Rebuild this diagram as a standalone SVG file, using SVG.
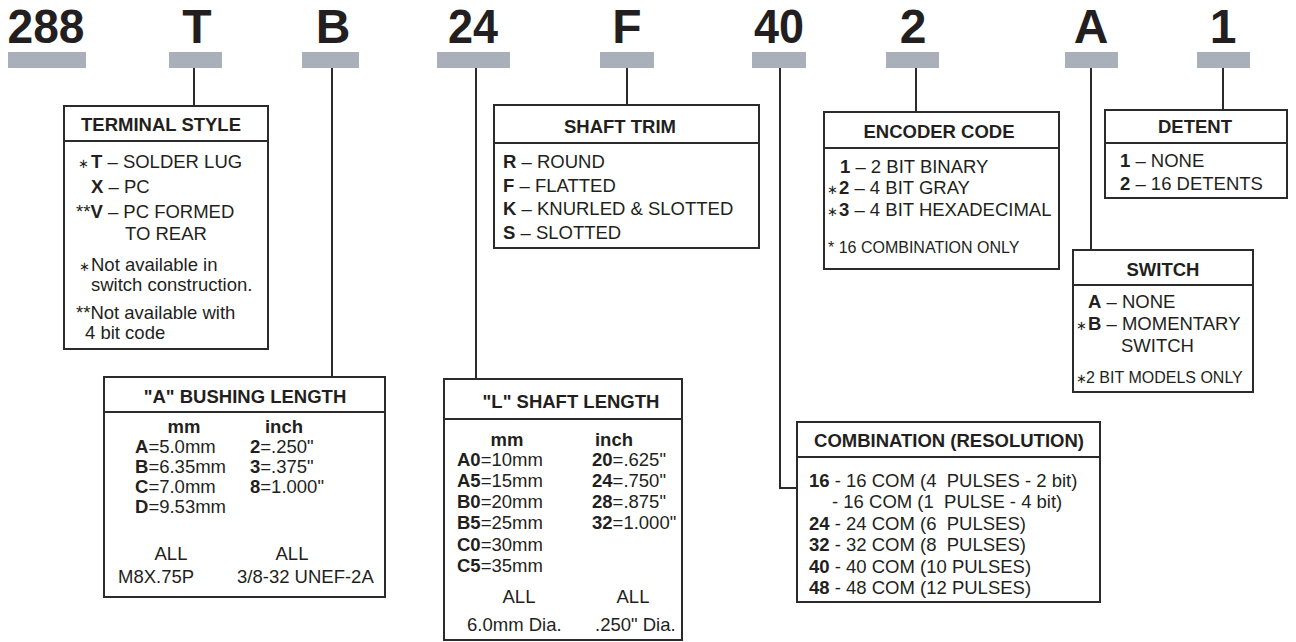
<svg xmlns="http://www.w3.org/2000/svg" width="1296" height="642" viewBox="0 0 1296 642">
<style>
text{font-family:"Liberation Sans",Arial,sans-serif;fill:#231f20}
.code{font-size:48px;font-weight:bold;text-anchor:middle}
.bar{fill:#a9b0b9}
.box{fill:#fff;stroke:#2b2b2b;stroke-width:2}
.div{stroke:#2b2b2b;stroke-width:2}
.hdr{font-size:18.5px;font-weight:bold;text-anchor:middle}
.t{font-size:18.5px}
.s{font-size:16px}
.b{font-weight:bold}
.ast{font-size:13px}
.c{text-anchor:middle}
.conn{fill:none;stroke:#2b2b2b;stroke-width:2}
</style>
<g id="codes">
<text class="code" x="46" y="43" textLength="77" lengthAdjust="spacingAndGlyphs">288</text>
<text class="code" x="197" y="43">T</text>
<text class="code" x="333" y="43">B</text>
<text class="code" x="473" y="43" textLength="50" lengthAdjust="spacingAndGlyphs">24</text>
<text class="code" x="627" y="43">F</text>
<text class="code" x="779" y="43" textLength="50" lengthAdjust="spacingAndGlyphs">40</text>
<text class="code" x="913" y="43">2</text>
<text class="code" x="1091" y="43">A</text>
<text class="code" x="1223" y="43">1</text>
<rect class="bar" x="8" y="52" width="78" height="16"/>
<rect class="bar" x="169" y="52" width="53" height="16"/>
<rect class="bar" x="302" y="52" width="57" height="16"/>
<rect class="bar" x="437" y="52" width="73" height="16"/>
<rect class="bar" x="600" y="52" width="54" height="16"/>
<rect class="bar" x="752" y="52" width="54" height="16"/>
<rect class="bar" x="886" y="52" width="53" height="16"/>
<rect class="bar" x="1065" y="52" width="53" height="16"/>
<rect class="bar" x="1197" y="52" width="53" height="16"/>
</g>
<g id="connectors">
<path class="conn" d="M194 68V106"/>
<path class="conn" d="M332 68V377"/>
<path class="conn" d="M476 68V379"/>
<path class="conn" d="M627 68V105"/>
<path class="conn" d="M780 68V488H797"/>
<path class="conn" d="M916 68V112"/>
<path class="conn" d="M1091 68V250"/>
<path class="conn" d="M1223 68V110"/>
</g>
<g id="terminal-style">
<rect class="box" x="64" y="106" width="204" height="243"/>
<line class="div" x1="64" y1="141" x2="268" y2="141"/>
<text class="hdr" x="161" y="131">TERMINAL STYLE</text>
<text class="t" y="168"><tspan class="ast" x="78">∗</tspan><tspan class="b" x="91">T</tspan> – SOLDER LUG</text>
<text class="t" y="193"><tspan class="b" x="91">X</tspan> – PC</text>
<text class="t" y="218"><tspan x="76">**</tspan><tspan class="b">V</tspan> – PC FORMED</text>
<text class="t" x="125" y="240">TO REAR</text>
<text class="t" y="271"><tspan class="ast" x="79">∗</tspan><tspan x="91">Not available in</tspan></text>
<text class="t" x="91" y="291">switch construction.</text>
<text class="t" x="76" y="319">**Not available with</text>
<text class="t" x="85" y="339">4 bit code</text>
</g>
<g id="bushing-length">
<rect class="box" x="104" y="377" width="281" height="220"/>
<line class="div" x1="104" y1="412" x2="385" y2="412"/>
<text class="hdr" x="245" y="403">"A" BUSHING LENGTH</text>
<text class="t b c" x="184" y="433">mm</text>
<text class="t b c" x="284" y="433">inch</text>
<text class="t" x="135" y="453"><tspan class="b">A</tspan>=5.0mm</text>
<text class="t" x="135" y="473"><tspan class="b">B</tspan>=6.35mm</text>
<text class="t" x="135" y="493"><tspan class="b">C</tspan>=7.0mm</text>
<text class="t" x="135" y="513"><tspan class="b">D</tspan>=9.53mm</text>
<text class="t" x="250" y="453"><tspan class="b">2</tspan>=.250"</text>
<text class="t" x="250" y="473"><tspan class="b">3</tspan>=.375"</text>
<text class="t" x="250" y="493"><tspan class="b">8</tspan>=1.000"</text>
<text class="t c" x="171" y="560">ALL</text>
<text class="t c" x="292" y="560">ALL</text>
<text class="t" x="118" y="583">M8X.75P</text>
<text class="t" x="237" y="583">3/8-32 UNEF-2A</text>
</g>
<g id="shaft-length">
<rect class="box" x="444" y="379" width="238" height="261"/>
<line class="div" x1="444" y1="419" x2="682" y2="419"/>
<text class="hdr" x="571" y="408">"L" SHAFT LENGTH</text>
<text class="t b c" x="507" y="446">mm</text>
<text class="t b c" x="614" y="446">inch</text>
<text class="t" x="457" y="466"><tspan class="b">A0</tspan>=10mm</text>
<text class="t" x="457" y="487"><tspan class="b">A5</tspan>=15mm</text>
<text class="t" x="457" y="508"><tspan class="b">B0</tspan>=20mm</text>
<text class="t" x="457" y="529"><tspan class="b">B5</tspan>=25mm</text>
<text class="t" x="457" y="551"><tspan class="b">C0</tspan>=30mm</text>
<text class="t" x="457" y="572"><tspan class="b">C5</tspan>=35mm</text>
<text class="t" x="592" y="466"><tspan class="b">20</tspan>=.625"</text>
<text class="t" x="592" y="487"><tspan class="b">24</tspan>=.750"</text>
<text class="t" x="592" y="508"><tspan class="b">28</tspan>=.875"</text>
<text class="t" x="592" y="529"><tspan class="b">32</tspan>=1.000"</text>
<text class="t c" x="519" y="603">ALL</text>
<text class="t c" x="633" y="603">ALL</text>
<text class="t" x="467" y="631">6.0mm Dia.</text>
<text class="t" x="595" y="631">.250" Dia.</text>
</g>
<g id="shaft-trim">
<rect class="box" x="494" y="105" width="265" height="143"/>
<line class="div" x1="494" y1="143" x2="759" y2="143"/>
<text class="hdr" x="620" y="133">SHAFT TRIM</text>
<text class="t" x="503" y="168"><tspan class="b">R</tspan> – ROUND</text>
<text class="t" x="503" y="192"><tspan class="b">F</tspan> – FLATTED</text>
<text class="t" x="503" y="215"><tspan class="b">K</tspan> – KNURLED &amp; SLOTTED</text>
<text class="t" x="503" y="239"><tspan class="b">S</tspan> – SLOTTED</text>
</g>
<g id="encoder-code">
<rect class="box" x="824" y="112" width="235" height="157"/>
<line class="div" x1="824" y1="148" x2="1059" y2="148"/>
<text class="hdr" x="939" y="138">ENCODER CODE</text>
<text class="t" y="173"><tspan class="b" x="840">1</tspan> – 2 BIT BINARY</text>
<text class="t" y="194"><tspan class="ast" x="827">∗</tspan><tspan class="b" x="839">2</tspan> – 4 BIT GRAY</text>
<text class="t" y="216"><tspan class="ast" x="827">∗</tspan><tspan class="b" x="839">3</tspan> – 4 BIT HEXADECIMAL</text>
<text class="s" x="828" y="253">* 16 COMBINATION ONLY</text>
</g>
<g id="detent">
<rect class="box" x="1105" y="110" width="182" height="88"/>
<line class="div" x1="1105" y1="143" x2="1287" y2="143"/>
<text class="hdr" x="1195" y="133">DETENT</text>
<text class="t" x="1120" y="167"><tspan class="b">1</tspan> – NONE</text>
<text class="t" x="1120" y="190"><tspan class="b">2</tspan> – 16 DETENTS</text>
</g>
<g id="switch">
<rect class="box" x="1073" y="250" width="180" height="142"/>
<line class="div" x1="1073" y1="285" x2="1253" y2="285"/>
<text class="hdr" x="1163" y="276">SWITCH</text>
<text class="t" x="1088" y="308"><tspan class="b">A</tspan> – NONE</text>
<text class="t" y="330"><tspan class="ast" x="1076">∗</tspan><tspan class="b" x="1088">B</tspan> – MOMENTARY</text>
<text class="t" x="1121" y="352">SWITCH</text>
<text class="s" y="383"><tspan class="ast" x="1076">∗</tspan><tspan x="1086">2 BIT MODELS ONLY</tspan></text>
</g>
<g id="combination">
<rect class="box" x="797" y="422" width="303" height="180"/>
<line class="div" x1="797" y1="457" x2="1100" y2="457"/>
<text class="hdr" x="949" y="447">COMBINATION (RESOLUTION)</text>
<text class="t" x="809" y="487" xml:space="preserve"><tspan class="b">16</tspan> - 16 COM (4  PULSES - 2 bit)</text>
<text class="t" x="832" y="508" xml:space="preserve">- 16 COM (1  PULSE - 4 bit)</text>
<text class="t" x="809" y="530" xml:space="preserve"><tspan class="b">24</tspan> - 24 COM (6  PULSES)</text>
<text class="t" x="809" y="551" xml:space="preserve"><tspan class="b">32</tspan> - 32 COM (8  PULSES)</text>
<text class="t" x="809" y="573" xml:space="preserve"><tspan class="b">40</tspan> - 40 COM (10 PULSES)</text>
<text class="t" x="809" y="594" xml:space="preserve"><tspan class="b">48</tspan> - 48 COM (12 PULSES)</text>
</g>
</svg>
